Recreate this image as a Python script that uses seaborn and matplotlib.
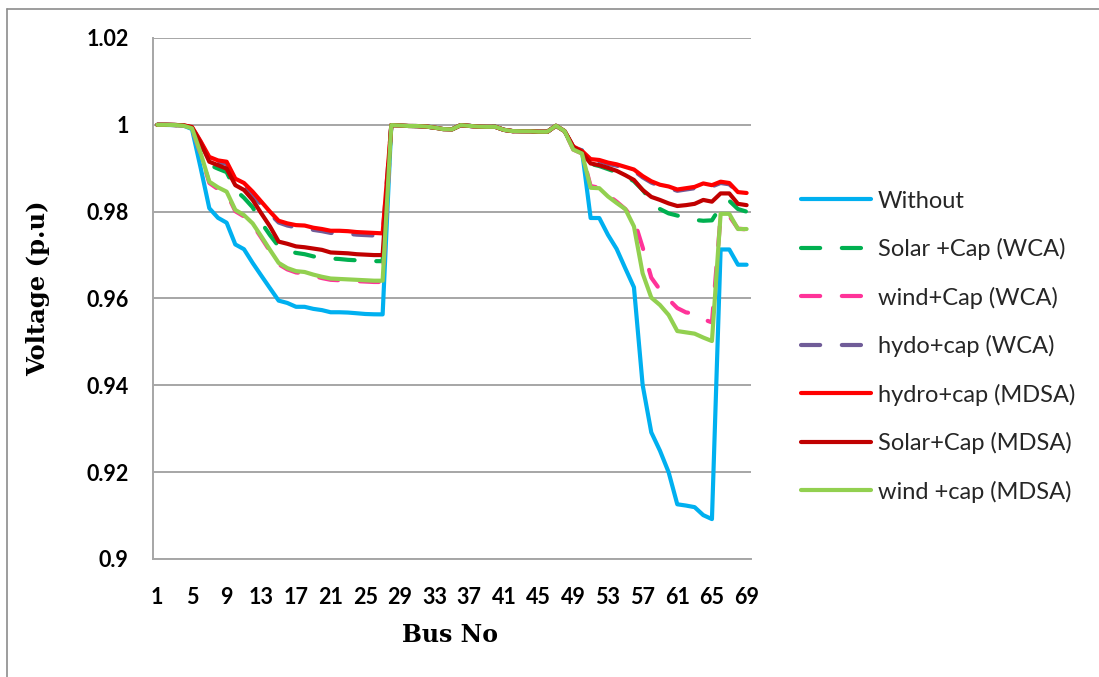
import matplotlib
matplotlib.use("Agg")
import matplotlib.pyplot as plt
from matplotlib.lines import Line2D
import numpy as np
import pandas as pd
import seaborn as sns

# ---- data -----------------------------------------------------------------
bus = list(range(1, 70))

# buses 28-48 (lateral feeders) are practically identical for every case
mid_28_48 = [0.99993, 0.99985, 0.99973, 0.99971, 0.99961, 0.99935, 0.99901,
             0.99895, 0.99992, 0.99975, 0.99959, 0.99954, 0.99954, 0.99884,
             0.99855, 0.99851, 0.99850, 0.99841, 0.99840, 0.99979, 0.99854]

without_1_27 = [1.0, 0.99997, 0.99993, 0.99984, 0.99902, 0.99009, 0.98079,
                0.97858, 0.97745, 0.97245, 0.97135, 0.96819, 0.96526, 0.96237,
                0.95951, 0.95897, 0.95809, 0.95808, 0.95761, 0.95732, 0.95683,
                0.95683, 0.95676, 0.95660, 0.95643, 0.95636, 0.95634]
without_49_69 = [0.99470, 0.99415, 0.97854, 0.97853, 0.97466, 0.97142, 0.96695,
                 0.96258, 0.94011, 0.92917, 0.92495, 0.91999, 0.91260, 0.91231,
                 0.91194, 0.91010, 0.90919, 0.97129, 0.97129, 0.96778, 0.96778]

solar_wca_1_27 = [1.0, 1.0, 0.99996, 0.9999, 0.9994, 0.9955, 0.9908, 0.9899,
                  0.9891, 0.9850, 0.9832, 0.9810, 0.9775, 0.9746, 0.9720,
                  0.9710, 0.9705, 0.9702, 0.9697, 0.9694, 0.9692, 0.9691,
                  0.9689, 0.9688, 0.9687, 0.9686, 0.9686]
solar_wca_49_69 = [0.9948, 0.9936, 0.9910, 0.9905, 0.9898, 0.9891, 0.9882,
                   0.9870, 0.9850, 0.9825, 0.9806, 0.9796, 0.9791, 0.9786,
                   0.9781, 0.9779, 0.9780, 0.9812, 0.9825, 0.9806, 0.9800]

wind_wca_1_27 = [1.0, 1.0, 0.99995, 0.9998, 0.9991, 0.9933, 0.9866, 0.9852,
                 0.9843, 0.9801, 0.9789, 0.9770, 0.9740, 0.9709, 0.9679,
                 0.9667, 0.9660, 0.9658, 0.9652, 0.9647, 0.9643, 0.9642,
                 0.9641, 0.9640, 0.9639, 0.9638, 0.9638]
wind_wca_49_69 = [0.9943, 0.9934, 0.9859, 0.9855, 0.9838, 0.9823, 0.9806,
                  0.9782, 0.9718, 0.9648, 0.9620, 0.9598, 0.9578, 0.9568,
                  0.9565, 0.9552, 0.9545, 0.9790, 0.9790, 0.9761, 0.9759]

hydro_wca_1_27 = [1.0, 1.0, 0.99997, 0.9999, 0.9995, 0.9960, 0.9922, 0.9914,
                  0.9910, 0.9868, 0.9858, 0.9838, 0.9816, 0.9795, 0.9775,
                  0.9768, 0.9764, 0.9763, 0.9758, 0.9755, 0.9751, 0.9750,
                  0.9749, 0.9747, 0.9746, 0.9745, 0.9745]
hydro_wca_49_69 = [0.9949, 0.9937, 0.9918, 0.9916, 0.9910, 0.9906, 0.9900,
                   0.9894, 0.9879, 0.9867, 0.9859, 0.9855, 0.9848, 0.9851,
                   0.9854, 0.9862, 0.9858, 0.9866, 0.9863, 0.9845, 0.9840]

hydro_mdsa_1_27 = [1.0, 1.0, 0.99997, 0.9999, 0.9995, 0.9962, 0.9926, 0.9918,
                   0.9915, 0.9876, 0.9866, 0.9846, 0.9823, 0.9800, 0.9779,
                   0.9773, 0.9769, 0.9768, 0.9763, 0.9760, 0.9756, 0.9756,
                   0.9755, 0.9753, 0.9752, 0.9751, 0.9750]
hydro_mdsa_49_69 = [0.9950, 0.9940, 0.9921, 0.9919, 0.9913, 0.9909, 0.9903,
                    0.9897, 0.9882, 0.9870, 0.9862, 0.9858, 0.9851, 0.9854,
                    0.9857, 0.9865, 0.9861, 0.9869, 0.9866, 0.9845, 0.9843]

solar_mdsa_1_27 = [1.0, 1.0, 0.99996, 0.9999, 0.9994, 0.9958, 0.9915, 0.9907,
                   0.9899, 0.9861, 0.9850, 0.9827, 0.9796, 0.9766, 0.9731,
                   0.9726, 0.9720, 0.9718, 0.9715, 0.9712, 0.9706, 0.9705,
                   0.9704, 0.9702, 0.9701, 0.9700, 0.9700]
solar_mdsa_49_69 = [0.9949, 0.9936, 0.9911, 0.9907, 0.9901, 0.9894, 0.9884,
                    0.9873, 0.9850, 0.9834, 0.9827, 0.9819, 0.9813, 0.9815,
                    0.9818, 0.9827, 0.9823, 0.9842, 0.9842, 0.9818, 0.9815]

wind_mdsa_1_27 = [1.0, 1.0, 0.99995, 0.9998, 0.9992, 0.9935, 0.9869, 0.9856,
                  0.9846, 0.9804, 0.9792, 0.9773, 0.9743, 0.9712, 0.9682,
                  0.9670, 0.9663, 0.9661, 0.9655, 0.9650, 0.9646, 0.9645,
                  0.9644, 0.9643, 0.9642, 0.9641, 0.9641]
wind_mdsa_49_69 = [0.9943, 0.9934, 0.9855, 0.9854, 0.9835, 0.9820, 0.9806,
                   0.9766, 0.9658, 0.9602, 0.9585, 0.9562, 0.9525, 0.9522,
                   0.9519, 0.9510, 0.9502, 0.9795, 0.9795, 0.9760, 0.9760]

series_names = ["Without", "Solar +Cap (WCA)", "wind+Cap (WCA)",
                "hydo+cap (WCA)", "hydro+cap (MDSA)", "Solar+Cap (MDSA)",
                "wind +cap (MDSA)"]
series_parts = [(without_1_27, without_49_69),
                (solar_wca_1_27, solar_wca_49_69),
                (wind_wca_1_27, wind_wca_49_69),
                (hydro_wca_1_27, hydro_wca_49_69),
                (hydro_mdsa_1_27, hydro_mdsa_49_69),
                (solar_mdsa_1_27, solar_mdsa_49_69),
                (wind_mdsa_1_27, wind_mdsa_49_69)]

y_ticks = [0.9, 0.92, 0.94, 0.96, 0.98, 1.0, 1.02]
y_tick_labels = ["0.9", "0.92", "0.94", "0.96", "0.98", "1", "1.02"]
x_ticks = list(range(1, 70, 4))

# ---- styling ---------------------------------------------------------------
colors = {"Without": "#00B0F0",
          "Solar +Cap (WCA)": "#00B050",
          "wind+Cap (WCA)": "#FF3399",
          "hydo+cap (WCA)": "#705C98",
          "hydro+cap (MDSA)": "#FF0000",
          "Solar+Cap (MDSA)": "#C00000",
          "wind +cap (MDSA)": "#92D050"}
dash_pat = (4.6, 5.2)
dashes = {n: (dash_pat if "WCA" in n else "") for n in series_names}

rows = []
for name, (head, tail) in zip(series_names, series_parts):
    values = head + mid_28_48 + tail
    for b, v in zip(bus, values):
        rows.append({"bus": b, "voltage": v, "series": name})
df = pd.DataFrame(rows)

sns.set_theme(style="white")
plt.rcParams["font.family"] = ["Lato", "DejaVu Sans"]

fig = plt.figure(figsize=(10.99, 6.77), dpi=100)
ax = fig.add_axes([0.1392, 0.1743, 0.5441, 0.7696])

sns.lineplot(data=df, x="bus", y="voltage", hue="series", style="series",
             hue_order=series_names, style_order=series_names,
             palette=colors, dashes=dashes, linewidth=3.0, errorbar=None,
             legend=False, ax=ax, solid_capstyle="round",
             dash_capstyle="round", solid_joinstyle="round",
             dash_joinstyle="round")

grid_c = "#A6A6A6"
ax.set_xlim(0.5, 69.5)
ax.set_ylim(0.9, 1.02)
ax.set_yticks(y_ticks)
ax.set_yticklabels(y_tick_labels)
ax.set_xticks(x_ticks)
ax.set_xticklabels([str(t) for t in x_ticks])
ax.yaxis.grid(True, color=grid_c, linewidth=1.4)
ax.xaxis.grid(False)
ax.set_axisbelow(True)
for s in ("top", "right"):
    ax.spines[s].set_visible(False)
for s in ("left", "bottom"):
    ax.spines[s].set_color(grid_c)
    ax.spines[s].set_linewidth(1.4)
ax.tick_params(axis="y", direction="out", length=5.5, width=1.2,
               color=grid_c, pad=12, labelsize=15.5)
ax.tick_params(axis="x", length=0, pad=20, labelsize=15.5)
for lab in ax.get_xticklabels() + ax.get_yticklabels():
    lab.set_fontweight("bold")
    lab.set_color("black")

ax.set_xlabel("Bus No", family="DejaVu Serif", fontweight="bold",
              fontsize=17, color="black")
ax.set_ylabel("Voltage (p.u)", family="DejaVu Serif", fontweight="bold",
              fontsize=17.5, color="black")
ax.xaxis.set_label_coords(0.497, -0.123)
ax.yaxis.set_label_coords(-0.172, 0.52)

handles = [Line2D([0], [0], color=colors[n], lw=3.0,
                  linestyle=(0, dash_pat) if dashes[n] else "-",
                  solid_capstyle="round", dash_capstyle="round")
           for n in series_names]
fig.legend(handles, series_names, loc="center left",
           bbox_to_anchor=(0.729, 0.488), frameon=False, fontsize=17,
           handlelength=2.95, handletextpad=0.3, labelspacing=1.12,
           borderpad=0, borderaxespad=0)

# chart-area border (top and left edges)
border = "#8C8C8C"
fig.add_artist(Line2D([0.0068, 1.0], [1 - 9 / 677, 1 - 9 / 677],
                      transform=fig.transFigure, color=border, lw=1.2))
fig.add_artist(Line2D([0.0068, 0.0068], [0.0, 1 - 9 / 677],
                      transform=fig.transFigure, color=border, lw=1.2))

fig.savefig("out.png", dpi=100, facecolor="white")
